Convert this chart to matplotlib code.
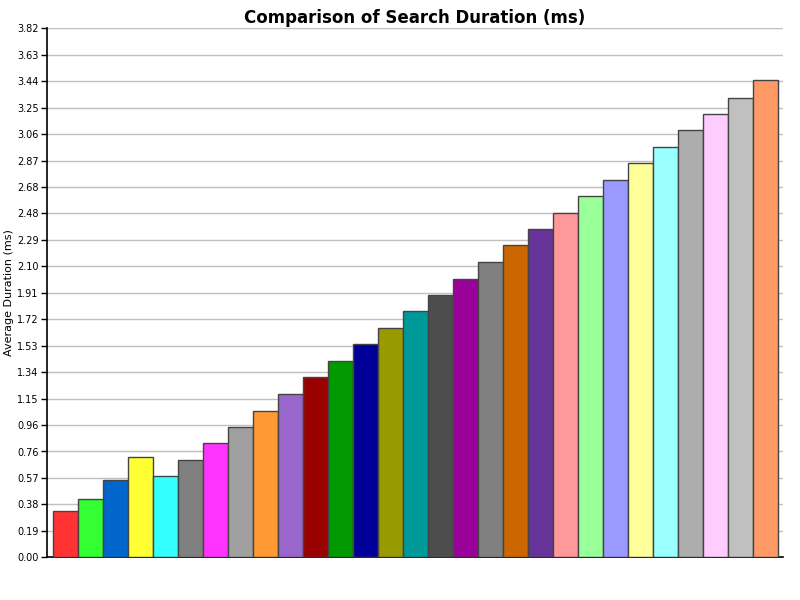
import matplotlib
matplotlib.use("Agg")
import matplotlib.pyplot as plt
import numpy as np

categories = [f"Run {i}" for i in range(1, 30)]
durations = [0.332, 0.421, 0.556, 0.722, 0.585, 0.700, 0.823, 0.939, 1.054, 1.177,
             1.300, 1.415, 1.538, 1.653, 1.776, 1.892, 2.007, 2.130, 2.253, 2.368,
             2.484, 2.606, 2.722, 2.845, 2.960, 3.083, 3.199, 3.314, 3.444]
bar_colors = ["#FF3333", "#33FF33", "#0066CC", "#FFFF33", "#33FFFF", "#808080",
              "#FF33FF", "#A0A0A0", "#FF9933", "#9966CC", "#990000", "#009900",
              "#000099", "#999900", "#009999", "#4D4D4D", "#990099", "#808080",
              "#CC6600", "#663399", "#FF9999", "#99FF99", "#9999FF", "#FFFF99",
              "#99FFFF", "#ADADAD", "#FFCCFF", "#C0C0C0", "#FF9966"]
tick_values = [i * 0.191 for i in range(21)]
tick_labels = ["0.00", "0.19", "0.38", "0.57", "0.76", "0.96", "1.15", "1.34", "1.53",
               "1.72", "1.91", "2.10", "2.29", "2.48", "2.68", "2.87", "3.06", "3.25",
               "3.44", "3.63", "3.82"]

fig = plt.figure(figsize=(8, 6), dpi=100)
ax = fig.add_axes([47 / 800, 1 - 557.3 / 600, 736 / 800, (557.3 - 28.3) / 600])

x = np.arange(len(categories))
ax.bar(x, durations, width=1.0, color=bar_colors, edgecolor="#444444",
       linewidth=1.0, zorder=3)

ax.set_ylim(0, 3.82)
m = 0.5 + 0.22
ax.set_xlim(-m, len(categories) - 1 + m)
ax.set_yticks(tick_values)
ax.set_yticklabels(tick_labels, fontsize=7)
ax.set_xticks([])
ax.yaxis.grid(True, color="#C0C0C0", linewidth=1.0, zorder=0)
ax.set_axisbelow(True)
for s in ["top", "right"]:
    ax.spines[s].set_visible(False)
ax.spines["left"].set_linewidth(1.2)
ax.spines["bottom"].set_linewidth(1.2)
ax.tick_params(axis="y", length=4, width=1, pad=2)
ax.set_ylabel("Average Duration (ms)", fontsize=8, labelpad=2)
ax.set_title("Comparison of Search Duration (ms)", fontsize=12, fontweight="bold", pad=4)

fig.savefig("out.png", dpi=100, facecolor="white")
